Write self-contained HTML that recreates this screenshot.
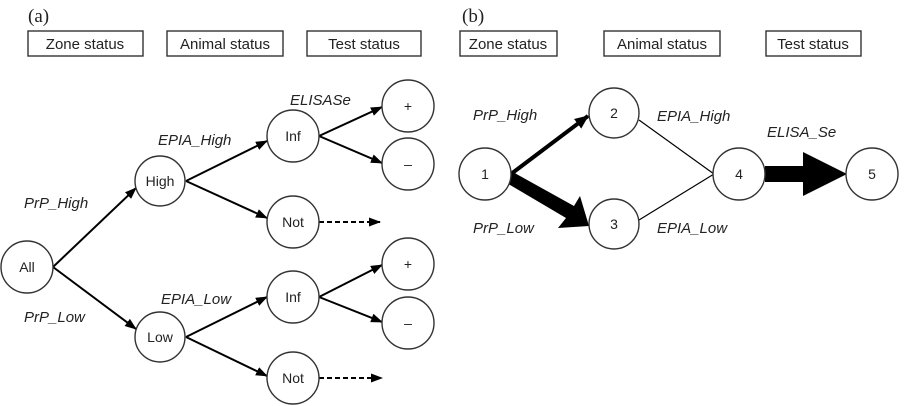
<!DOCTYPE html>
<html><head><style>
body{margin:0;background:#fff}
svg{display:block}
text{font-family:"Liberation Sans",sans-serif;fill:#222}
.l{font-style:italic;font-size:15px}
.n{font-size:14px;text-anchor:middle}
.h{font-size:15px;text-anchor:middle}
</style></head><body>
<svg width="904" height="406" viewBox="0 0 904 406">
<defs>
<marker id="a" markerWidth="12" markerHeight="9" refX="11" refY="4.5" orient="auto" markerUnits="userSpaceOnUse"><path d="M0,0 L12,4.5 L0,9 Z" fill="#000"/></marker>
<marker id="b" markerWidth="14" markerHeight="12" refX="13" refY="6" orient="auto" markerUnits="userSpaceOnUse"><path d="M0,0 L14,6 L0,12 Z" fill="#000"/></marker>
</defs>
<text x="28" y="22" style="font-family:'Liberation Serif',serif;font-size:19px">(a)</text>
<text x="462" y="22" style="font-family:'Liberation Serif',serif;font-size:19px">(b)</text>
<g fill="none" stroke="#333" stroke-width="1.4">
<rect x="28" y="31" width="115" height="25"/><rect x="167" y="31" width="116" height="25"/><rect x="307" y="31" width="114" height="25"/>
<rect x="460" y="31" width="97" height="25"/><rect x="604" y="31" width="116" height="25"/><rect x="766" y="31" width="95" height="25"/>
</g>
<text class="h" x="85" y="49">Zone status</text><text class="h" x="225" y="49">Animal status</text><text class="h" x="364" y="49">Test status</text>
<text class="h" x="508" y="49">Zone status</text><text class="h" x="662" y="49">Animal status</text><text class="h" x="813" y="49">Test status</text>
<g stroke="#000" stroke-width="2" fill="none">
<line x1="53" y1="267" x2="136" y2="188" marker-end="url(#a)"/>
<line x1="53" y1="267" x2="136" y2="329" marker-end="url(#a)"/>
<line x1="186" y1="181" x2="267" y2="141" marker-end="url(#a)"/>
<line x1="186" y1="181" x2="267" y2="218" marker-end="url(#a)"/>
<line x1="186" y1="337" x2="267" y2="297" marker-end="url(#a)"/>
<line x1="186" y1="337" x2="267" y2="376" marker-end="url(#a)"/>
<line x1="319" y1="136" x2="382" y2="107" marker-end="url(#a)"/>
<line x1="319" y1="136" x2="382" y2="163" marker-end="url(#a)"/>
<line x1="319" y1="297" x2="382" y2="265" marker-end="url(#a)"/>
<line x1="319" y1="297" x2="382" y2="322" marker-end="url(#a)"/>
<line x1="319" y1="222" x2="380" y2="222" stroke-dasharray="5,3" marker-end="url(#a)"/>
<line x1="319" y1="378" x2="382" y2="378" stroke-dasharray="5,3" marker-end="url(#a)"/>
<line x1="511" y1="174" x2="588" y2="116" stroke-width="4" marker-end="url(#b)"/>
<line x1="639" y1="120" x2="714" y2="174" stroke-width="1.2"/>
<line x1="639" y1="220" x2="714" y2="174" stroke-width="1.2"/>
</g>
<polygon points="511,171 574,206 580,196 589,226 558,228 566,218 505,182" fill="#000"/>
<polygon points="765,166 803,166 803,152 847,174 803,196 803,182 765,182" fill="#000"/>
<g fill="#fff" stroke="#333" stroke-width="1.4">
<circle cx="27" cy="267" r="26"/><circle cx="160" cy="181" r="25"/><circle cx="160" cy="337" r="25"/>
<circle cx="293" cy="136" r="26"/><circle cx="293" cy="222" r="26"/><circle cx="293" cy="297" r="26"/><circle cx="293" cy="378" r="26"/>
<circle cx="408" cy="106" r="26"/><circle cx="408" cy="164" r="26"/><circle cx="408" cy="264" r="26"/><circle cx="408" cy="323" r="26"/>
<circle cx="485" cy="174" r="26"/><circle cx="614" cy="113" r="25"/><circle cx="614" cy="224" r="25"/><circle cx="739" cy="174" r="26"/><circle cx="872" cy="174" r="26"/>
</g>
<text class="n" x="27" y="272">All</text><text class="n" x="160" y="186">High</text><text class="n" x="160" y="342">Low</text>
<text class="n" x="293" y="141">Inf</text><text class="n" x="293" y="227">Not</text><text class="n" x="293" y="302">Inf</text><text class="n" x="293" y="383">Not</text>
<text class="n" x="408" y="111">+</text><text class="n" x="408" y="169">–</text><text class="n" x="408" y="269">+</text><text class="n" x="408" y="328">–</text>
<text class="n" x="485" y="179">1</text><text class="n" x="614" y="118">2</text><text class="n" x="614" y="229">3</text><text class="n" x="739" y="179">4</text><text class="n" x="872" y="179">5</text>
<text class="l" x="24" y="208">PrP_High</text><text class="l" x="24" y="322">PrP_Low</text>
<text class="l" x="158" y="145">EPIA_High</text><text class="l" x="161" y="304">EPIA_Low</text><text class="l" x="290" y="105">ELISASe</text>
<text class="l" x="473" y="120">PrP_High</text><text class="l" x="473" y="233">PrP_Low</text>
<text class="l" x="657" y="121">EPIA_High</text><text class="l" x="657" y="233">EPIA_Low</text><text class="l" x="767" y="137">ELISA_Se</text>
</svg>
</body></html>
